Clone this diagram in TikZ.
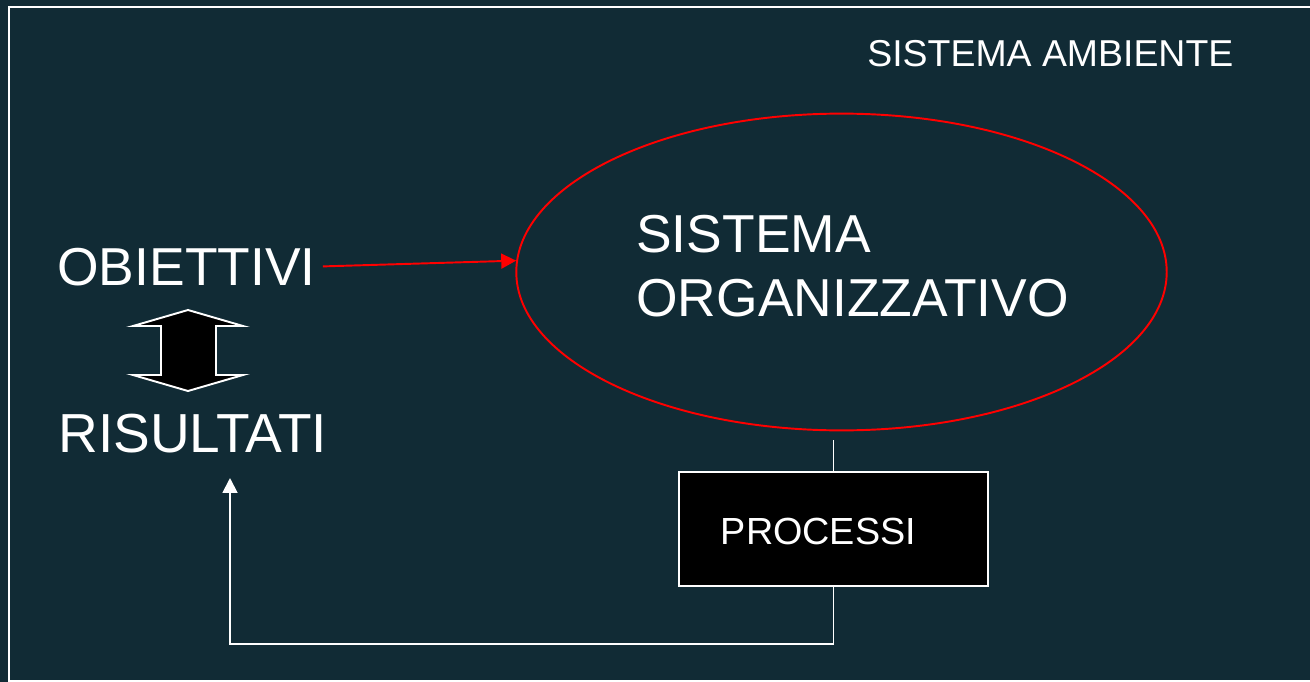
\documentclass[tikz,border=0pt]{standalone}
\usepackage{fontspec}
\setmainfont{Liberation Sans}
\usepackage{tikz}
\usetikzlibrary{arrows.meta,%
                shapes,positioning}
\definecolor{fondo}{HTML}{112B35}
\tikzstyle{testo}=[text=white,inner sep=0pt,anchor=base west]
\tikzstyle{grande}=[testo,font=\fontsize{30.4}{36.3}\selectfont]
\tikzstyle{piccolo}=[testo,font=\fontsize{21.3}{26}\selectfont]
\tikzstyle{linea}=[draw=white,line width=1.1pt]
\tikzstyle{scatola}=[rectangle,linea,fill=black,minimum width=176.3pt,minimum height=64.6pt]
\tikzstyle{sistema}=[ellipse,draw=red,line width=1.1pt,minimum width=370.2pt,minimum height=180.3pt]

\begin{document}
\begin{tikzpicture}[x=0.02cm,y=-0.02cm,line join=miter,>={Triangle[length=8.5pt,width=8.5pt]}]
	%%
	\fill[fondo] (0,0) rectangle (1310,682);
	\useasboundingbox (0,0) rectangle (1310,682);
	\draw[linea] (9,7) rectangle (1330,681);
	%%
	\node (amb) at (867,67) [piccolo] {SISTEMA AMBIENTE};
	  \node (org) at (841.5,272) [sistema] {};
	  \node (orgtxt) at (636,316.5) [grande,align=left] {SISTEMA\\ORGANIZZATIVO};
	  \node (obj) at (57,285) [grande] {OBIETTIVI};
	  \node (ris) at (58,452.7) [grande,font=\fontsize{31.3}{36}\selectfont] {RISULTATI};
	  \node (proc) at (833.5,529) [scatola] {};
	  \node (proctxt) at (720.5,544) [piccolo,font=\fontsize{21.5}{26}\selectfont] {PROCESSI};
	  \coordinate (angolo) at (230,644);
	  \coordinate (risin) at (230,478);
	  %% freccia doppia
	  \draw[linea,fill=black] (188,310) -- (243,326) -- (216,326) -- (216,375) -- (243,375)
	    -- (188,391) -- (133,375) -- (161,375) -- (161,326) -- (133,326) -- cycle;
	  %% collegamenti
	  \draw [red,line width=1.1pt,->,shorten <=4pt] (obj.east) -- (org.178.5);
	  \draw [linea,shorten >=5pt] (proc.north) -- (proc.north |- org.south);
	  \draw [linea,->] (proc.south) |- (angolo) -- (risin);
	%
\end{tikzpicture}
\end{document}
